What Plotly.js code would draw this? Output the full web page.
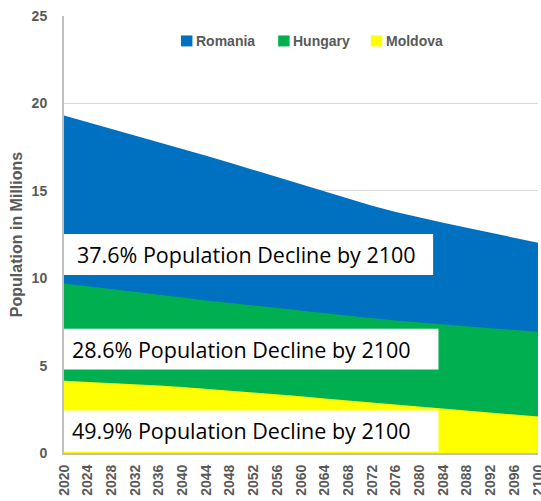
<!DOCTYPE html>
<html><head><meta charset="utf-8">
<script src="https://cdn.plot.ly/plotly-3.0.1.min.js"></script>
<style>html,body{margin:0;padding:0;background:#fff}#c{width:541px;height:501px}</style>
</head><body><div id="c"></div>
<script>
const years = [2020,2024,2028,2032,2036,2040,2044,2048,2052,2056,2060,2064,2068,2072,2076,2080,2084,2088,2092,2096,2100];
const romania = [19.31,18.93,18.55,18.16,17.78,17.39,17.0,16.6,16.19,15.77,15.35,14.92,14.52,14.14,13.79,13.47,13.17,12.88,12.6,12.31,12.03];
const hungary = [9.70,9.53,9.37,9.21,9.05,8.89,8.73,8.58,8.42,8.27,8.12,7.98,7.84,7.71,7.58,7.46,7.35,7.24,7.13,7.03,6.93];
const moldova = [4.13,4.07,4.00,3.93,3.86,3.78,3.68,3.57,3.46,3.35,3.24,3.12,3.00,2.88,2.76,2.64,2.53,2.42,2.31,2.20,2.09];
const seriesNames = ["Romania","Hungary","Moldova"];
const seriesColors = ["#0070C0","#00B050","#FFFF00"];
const notes = ["37.6% Population Decline by 2100","28.6% Population Decline by 2100","49.9% Population Decline by 2100"];
const tickYears = years;

const values = [romania, hungary, moldova];
const traces = values.map((v,i)=>({
  x: years, y: v, type:'scatter', mode:'lines', fill:'tozeroy',
  name: seriesNames[i], line:{width:0, color:seriesColors[i]}, fillcolor: seriesColors[i],
  hoverinfo:'skip', showlegend:false
}));

// plot area in pixels (for placing the hand-made legend)
const PL = 64, PR = 538.3, PT = 15.5, PB = 453.5;
const px = v => (v - PL) / (PR - PL);
const py = v => (PB - v) / (PB - PT);

const boxes = [
  {x1:2082.3, y0:10.19, y1:12.53, tx:2021.8},
  {x1:2083.2, y0:4.77, y1:7.11, tx:2020.95},
  {x1:2083.2, y0:0.09, y1:2.43, tx:2020.95}
];
const shapes = boxes.map(b=>({type:'rect', xref:'x', yref:'y', x0:2020, x1:b.x1, y0:b.y0, y1:b.y1, fillcolor:'#ffffff', line:{width:0}, layer:'above'}));
const annotations = boxes.map((b,i)=>({xref:'x', yref:'y', x:b.tx, y:(b.y0+b.y1)/2, xanchor:'left', yanchor:'middle', text:notes[i], showarrow:false, font:{family:'Open Sans, sans-serif', size:21.5, color:'#000'}}));

// legend: square swatches + bold labels
const legSq = [181, 278.3, 371];
const legTx = [195.5, 292.5, 385.5];
seriesNames.forEach((n,i)=>{
  shapes.push({type:'rect', xref:'paper', yref:'paper', x0:px(legSq[i]), x1:px(legSq[i]+11.5), y0:py(46), y1:py(35), fillcolor:seriesColors[i], line:{width:0}, layer:'above'});
  annotations.push({xref:'paper', yref:'paper', x:px(legTx[i]), y:py(40.5), xanchor:'left', yanchor:'middle', showarrow:false, text:n, borderpad:0,
    font:{family:'Liberation Sans, Arial, sans-serif', size:14, color:'#595959', weight:'bold'}});
});

const layout = {
  width:541, height:501,
  margin:{l:64, r:2.7, t:15.5, b:47.5},
  paper_bgcolor:'#fff', plot_bgcolor:'#fff',
  showlegend:false,
  xaxis:{range:[2020,2100], tickvals:tickYears, ticktext:tickYears.map(String), tickangle:-90, showgrid:false, zeroline:false,
    showline:true, linecolor:'#bfbfbf', linewidth:2, ticks:'', ticklabelstandoff:4, ticklabeloverflow:'allow',
    tickfont:{family:'Liberation Sans, Arial, sans-serif', size:14, color:'#595959', weight:'bold'}},
  yaxis:{range:[0,25], dtick:5, showgrid:true, gridcolor:'#d9d9d9', gridwidth:1, zeroline:false,
    showline:true, linecolor:'#bfbfbf', linewidth:2, ticks:'', ticklabelstandoff:12,
    tickfont:{family:'Liberation Sans, Arial, sans-serif', size:14, color:'#595959', weight:'bold'},
    title:{text:'Population in Millions', standoff:5, font:{family:'Liberation Sans, Arial, sans-serif', size:16, color:'#595959', weight:'bold'}}},
  shapes: shapes,
  annotations: annotations
};
Plotly.newPlot('c', traces, layout, {displayModeBar:false, staticPlot:true});
</script></body></html>
